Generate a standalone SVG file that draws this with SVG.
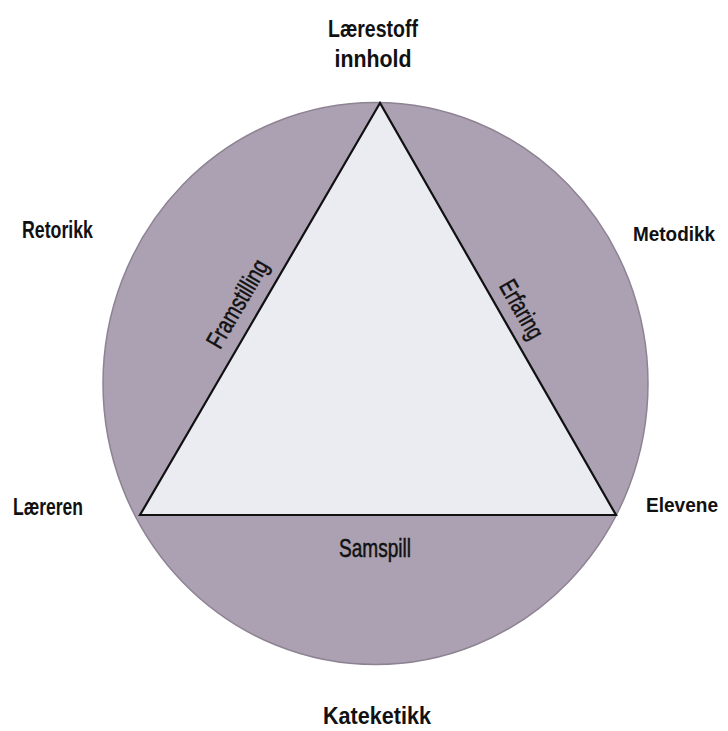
<svg xmlns="http://www.w3.org/2000/svg" width="728" height="731" viewBox="0 0 728 731">
  <style>
    .lbl { font-family: "Liberation Sans", Arial, sans-serif; font-weight: bold; font-size: 24px; fill: #111; }
    .lbl-r { font-size: 21px; }
    .side { font-family: "Liberation Sans", Arial, sans-serif; font-size: 25px; fill: #111; stroke: #111; stroke-width: 0.5px; }
  </style>
  <rect width="728" height="731" fill="#ffffff"/>
  <g id="circle">
    <ellipse cx="375.5" cy="383.5" rx="272.5" ry="281" fill="#aba1b2" stroke="#8d8393" stroke-width="1.5"/>
  </g>
  <g id="triangle">
    <polygon points="380,103 140,515 616,515" fill="#eaecf2" stroke="#111" stroke-width="2.2" stroke-linejoin="miter"/>
  </g>
  <g id="side-labels">
    <g id="framstilling" transform="translate(244.6,307.8) rotate(-59.8)">
      <text class="side" x="0" y="0" text-anchor="middle" textLength="98" lengthAdjust="spacingAndGlyphs">Framstilling</text>
    </g>
    <g id="erfaring" transform="translate(514.4,313.6) rotate(60.2)">
      <text class="side" x="0" y="0" text-anchor="middle" textLength="64" lengthAdjust="spacingAndGlyphs">Erfaring</text>
    </g>
    <g id="samspill">
      <text class="side" x="375" y="557" text-anchor="middle" textLength="72" lengthAdjust="spacingAndGlyphs">Samspill</text>
    </g>
  </g>
  <g id="laerestoff">
    <text class="lbl" x="373" y="37" text-anchor="middle" textLength="90" lengthAdjust="spacingAndGlyphs">Lærestoff</text>
    <text class="lbl" x="373" y="67" text-anchor="middle" textLength="77" lengthAdjust="spacingAndGlyphs">innhold</text>
  </g>
  <g id="retorikk">
    <text class="lbl" x="22" y="238" textLength="71" lengthAdjust="spacingAndGlyphs">Retorikk</text>
  </g>
  <g id="metodikk">
    <text class="lbl lbl-r" x="633" y="241" textLength="82" lengthAdjust="spacingAndGlyphs">Metodikk</text>
  </g>
  <g id="laereren">
    <text class="lbl" x="13" y="515" textLength="70" lengthAdjust="spacingAndGlyphs">Læreren</text>
  </g>
  <g id="elevene">
    <text class="lbl lbl-r" x="646" y="512" textLength="72" lengthAdjust="spacingAndGlyphs">Elevene</text>
  </g>
  <g id="kateketikk">
    <text class="lbl" x="377" y="724" text-anchor="middle" textLength="108" lengthAdjust="spacingAndGlyphs">Kateketikk</text>
  </g>
</svg>
